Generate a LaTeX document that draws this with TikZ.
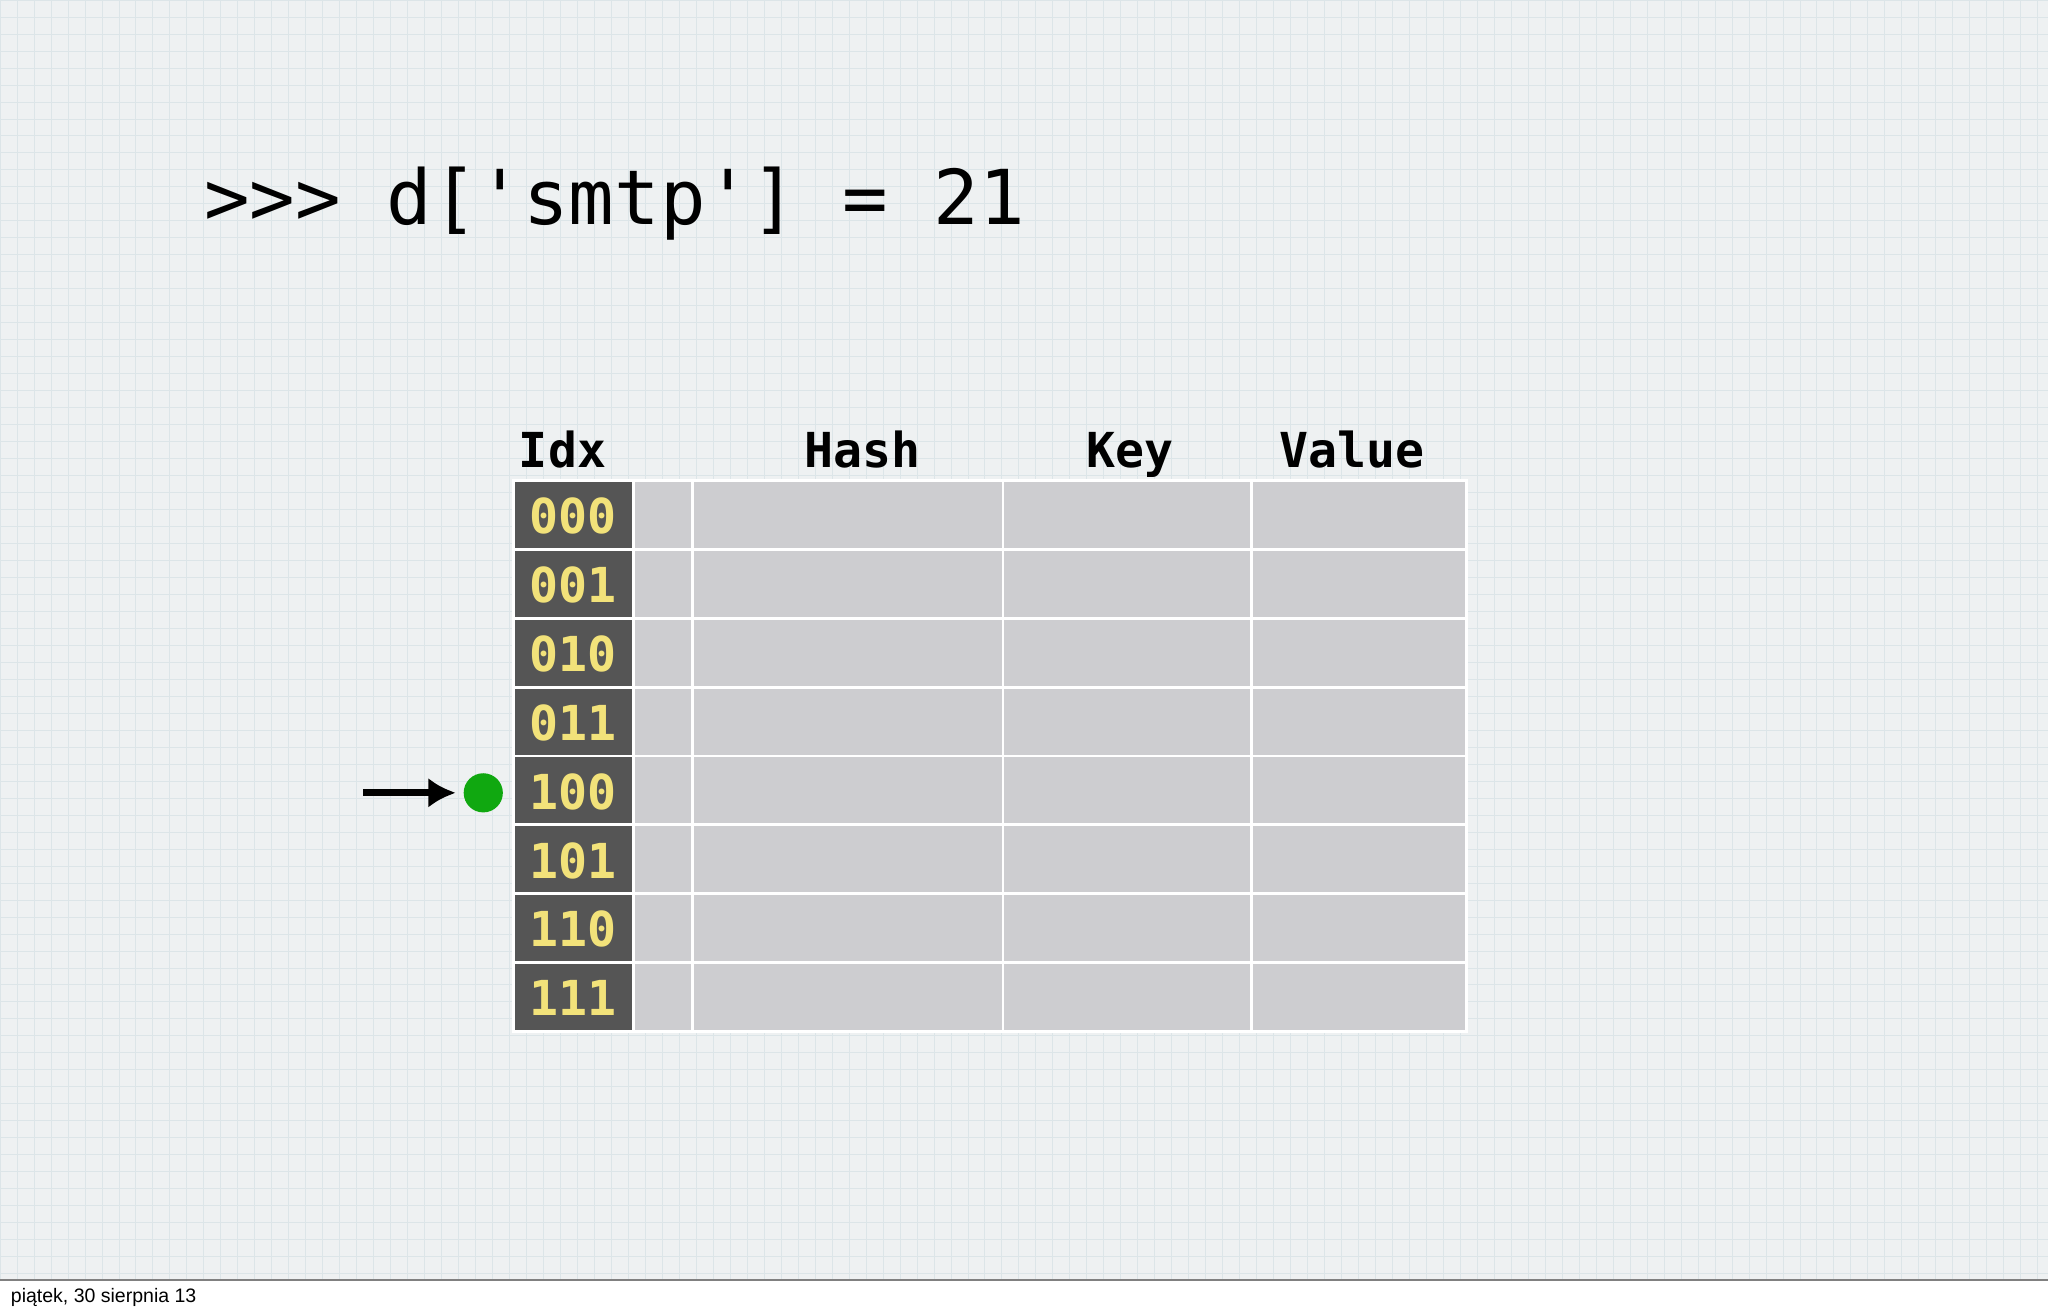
\documentclass[tikz,border=0pt]{standalone}
\usepackage{fontspec}
\setmonofont{DejaVu Sans Mono}
\setsansfont{Liberation Sans}
\usetikzlibrary{arrows.meta}
\begin{document}
\begin{tikzpicture}[x=0.02cm,y=-0.02cm,
  idxcell/.style={fill=idxgray,draw=white,line width=1.2pt},
  cell/.style={fill=cellgray,draw=white,line width=1.2pt},
  idxtxt/.style={text=idxyellow,font=\ttfamily\bfseries\fontsize{21}{21}\selectfont},
  head/.style={font=\ttfamily\bfseries\fontsize{21}{21}\selectfont,anchor=base}]
\definecolor{bg}{HTML}{EEF1F2}
\definecolor{gridc}{HTML}{DCE5E8}
\definecolor{idxgray}{HTML}{555555}
\definecolor{cellgray}{HTML}{CDCDD0}
\definecolor{idxyellow}{HTML}{F2E27A}
\definecolor{dotgreen}{HTML}{10A810}
\useasboundingbox (0,0) rectangle (1568,1004);
\fill[bg] (0,0) rectangle (1568,1004);
\foreach \x in {0,13,...,1568} \draw[gridc,line width=0.3pt] (\x,0) -- (\x,980);
\foreach \y in {0,13,...,980} \draw[gridc,line width=0.3pt] (0,\y) -- (1568,\y);
\fill[white] (0,980) rectangle (1568,1004);
\draw[gray,line width=0.6pt] (0,980) -- (1568,980);
\node[anchor=base west,font=\sffamily\fontsize{8.5}{9}\selectfont,inner sep=0] (foot) at (8,997) {piątek, 30 sierpnia 13};
\node[anchor=base west,inner sep=0,font=\ttfamily\fontsize{33}{33}\selectfont] (cmd) at (156,172) {>>> d['smtp'] = 21};
\node[head,anchor=base west,inner sep=0] (hidx) at (397,358) {Idx};
\node[head] (hhash) at (660,358) {Hash};
\node[head] (hkey) at (865,358) {Key};
\node[head] (hval) at (1035,358) {Value};
\foreach \lab [count=\i from 0] in {000,001,010,011,100,101,110,111} {
  \pgfmathsetmacro\ya{368+52.7*\i}
  \pgfmathsetmacro\yb{\ya+52.7}
  \draw[idxcell] (393,\ya) rectangle (485,\yb);
  \node[idxtxt] (i\i) at (439,{(\ya+\yb)/2+1}) {\lab};
  \draw[cell] (485,\ya) rectangle (530,\yb);
  \draw[cell] (530,\ya) rectangle (768,\yb);
  \draw[cell] (768,\ya) rectangle (958,\yb);
  \draw[cell] (958,\ya) rectangle (1123,\yb);
}
\node[circle,fill=dotgreen,minimum size=0.6cm,inner sep=0] (dot) at (370,607) {};
\coordinate (as) at (278,607);
\draw[line width=3.2pt,-{Latex[length=12pt,width=13pt]}] (as) -- (349,607);
\end{tikzpicture}
\end{document}
